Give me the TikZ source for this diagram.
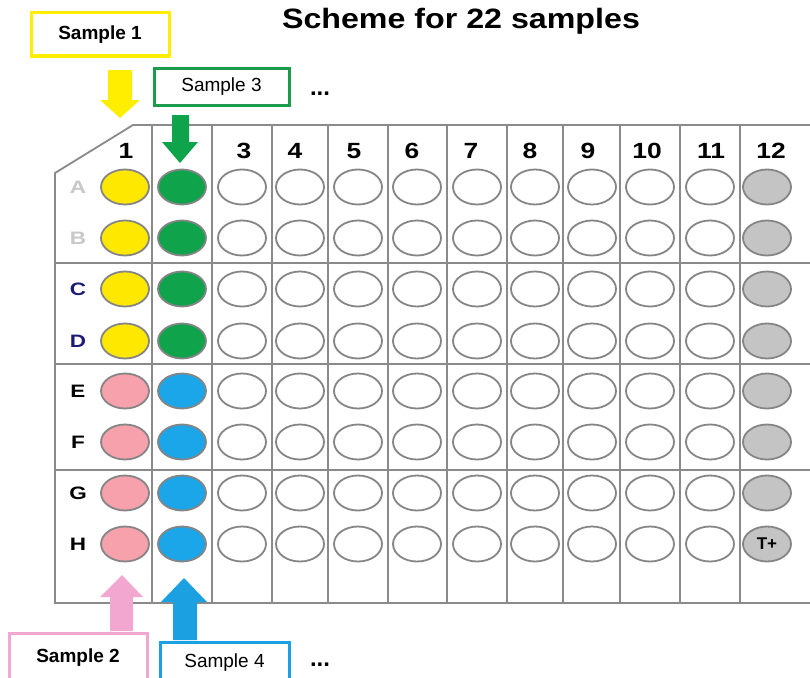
\documentclass[tikz,border=0pt]{standalone}
\usepackage{graphicx}
\usepackage{fontspec}
\setmainfont{Liberation Sans}
\usetikzlibrary{shapes.geometric}
\definecolor{platec}{HTML}{8A8A8A}
\definecolor{wellc}{HTML}{858585}
\definecolor{wyellow}{HTML}{FFE800}
\definecolor{wgreen}{HTML}{0FA34C}
\definecolor{wpink}{HTML}{F7A1AD}
\definecolor{wblue}{HTML}{1AA6E8}
\definecolor{wgray}{HTML}{C4C4C4}
\definecolor{byellow}{HTML}{FFEE00}
\definecolor{bgreen}{HTML}{1A9C4C}
\definecolor{bpink}{HTML}{F2A7D0}
\definecolor{bblue}{HTML}{1BA1E2}
\definecolor{lgray}{HTML}{C8C8C8}
\definecolor{navy}{HTML}{1C1C78}
\begin{document}
\begin{tikzpicture}[x=1pt,y=-1pt,
  plateline/.style={draw=platec,line width=1.8pt},
  well/.style={ellipse,draw=wellc,line width=1.8pt,minimum width=48pt,minimum height=35pt,inner sep=0pt},
  colhead/.style={font=\fontsize{22}{24}\bfseries\selectfont,inner sep=0pt},
  rowhead/.style={font=\fontsize{18}{20}\bfseries\selectfont,inner sep=0pt},
  samplebox/.style={draw,line width=3pt,inner sep=0pt,font=\fontsize{19}{22}\selectfont},
  dots/.style={font=\fontsize{24}{26}\bfseries\selectfont,inner sep=0pt}
]
\useasboundingbox[fill=white] (0,0) rectangle (810,677);

% title
\node[font=\fontsize{28}{32}\bfseries\selectfont,inner sep=0pt] (title) at (461,21) {\scalebox{1.15}[1]{Scheme for 22 samples}};

% plate
\draw[plateline] (810,125) -- (133,125) -- (55,173) -- (55,603) -- (810,603);
\foreach \y in {263,364,470} \draw[plateline] (55,\y) -- (810,\y);
\foreach \x in {152,212,272,328,388,447,507,563,620,680,740} \draw[plateline] (\x,125) -- (\x,603);

% column headers
\foreach \t/\x in {1/126,3/244,4/295,5/354,6/412,7/471,8/530,9/588,10/647,11/711,12/771}
  \node[colhead] (h\t) at (\x,151) {\scalebox{1.2}[1]{\t}};

% row headers
\node[rowhead,text=lgray] (rA) at (78,187) {\scalebox{1.25}[1]{A}};
\node[rowhead,text=lgray] (rB) at (78,238) {\scalebox{1.25}[1]{B}};
\node[rowhead,text=navy] (rC) at (78,289) {\scalebox{1.25}[1]{C}};
\node[rowhead,text=navy] (rD) at (78,341) {\scalebox{1.25}[1]{D}};
\node[rowhead] (rE) at (78,391) {\scalebox{1.25}[1]{E}};
\node[rowhead] (rF) at (78,442) {\scalebox{1.25}[1]{F}};
\node[rowhead] (rG) at (78,493) {\scalebox{1.25}[1]{G}};
\node[rowhead] (rH) at (78,544) {\scalebox{1.25}[1]{H}};

% wells
\foreach \r/\y in {A/187,B/238,C/289,D/341,E/391,F/442,G/493,H/544}{
  \foreach \c/\x in {3/242,4/300,5/358,6/417,7/477,8/535,9/592,10/650,11/710}
    \node[well] (w\r\c) at (\x,\y) {};
}
\foreach \r/\y in {A/187,B/238,C/289,D/341}{
  \node[well,fill=wyellow] (w\r1) at (125,\y) {};
  \node[well,fill=wgreen] (w\r2) at (182,\y) {};
}
\foreach \r/\y in {E/391,F/442,G/493,H/544}{
  \node[well,fill=wpink] (w\r1) at (125,\y) {};
  \node[well,fill=wblue] (w\r2) at (182,\y) {};
}
\foreach \r/\y in {A/187,B/238,C/289,D/341,E/391,F/442,G/493}
  \node[well,fill=wgray] (w\r12) at (767,\y) {};
\node[well,fill=wgray,font=\fontsize{17}{19}\bfseries\selectfont] (wH12) at (767,544) {T+};

% sample boxes
\node[samplebox,draw=byellow,minimum width=138pt,minimum height=43pt,font=\fontsize{19}{22}\bfseries\selectfont] (s1) at (100,34.5) {Sample 1};
\node[samplebox,draw=bgreen,minimum width=135pt,minimum height=37pt] (s3) at (221.5,86.5) {Sample 3};
\node[samplebox,draw=bpink,minimum width=138pt,minimum height=50pt,font=\fontsize{19}{22}\bfseries\selectfont] (s2) at (78,658) {Sample 2};
\node[samplebox,draw=bblue,minimum width=129pt,minimum height=42pt] (s4) at (224.5,663) {Sample 4};
\node[dots] (d1) at (320,94) {...};
\node[dots] (d2) at (320,665) {...};

% block arrows
\fill[byellow] (108,70) -- (132,70) -- (132,100) -- (140,100) -- (120,118) -- (100,100) -- (108,100) -- cycle;
\fill[wgreen] (172,115) -- (189,115) -- (189,142) -- (198,142) -- (180,163) -- (162,142) -- (172,142) -- cycle;
\fill[bpink] (110,631) -- (133,631) -- (133,597) -- (143,597) -- (122,575) -- (100,597) -- (110,597) -- cycle;
\fill[bblue] (173,640) -- (197,640) -- (197,602) -- (207,602) -- (184,578) -- (161,602) -- (173,602) -- cycle;
\end{tikzpicture}
\end{document}
